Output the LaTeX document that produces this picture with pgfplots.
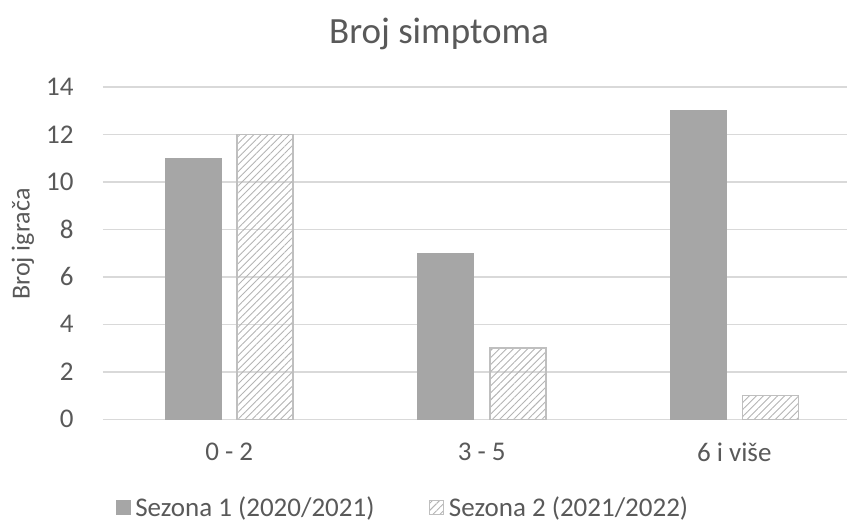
\documentclass[border=0pt]{standalone}
\usepackage{pgfplots}
\pgfplotsset{compat=1.18}
\usepackage{fontspec}
\setmainfont{Carlito}
\usetikzlibrary{patterns.meta}
\definecolor{txt}{HTML}{595959}
\definecolor{gridc}{HTML}{D9D9D9}
\definecolor{sone}{HTML}{A6A6A6}
\definecolor{stwob}{HTML}{BFBFBF}
\definecolor{hatch}{HTML}{B4B4B4}
\begin{document}
\begin{tikzpicture}[x=1pt,y=1pt]
\path[use as bounding box] (-103,-110.7) rectangle (744,419.3);
\begin{axis}[
  at={(0,0)}, anchor=south west,
  scale only axis, width=757.5pt, height=332.5pt,
  xmin=-0.5, xmax=2.5, ymin=0, ymax=14,
  ytick={0,2,...,14}, xtick={0,1,2},
  xticklabels={0 - 2, 3 - 5, 6 i više},
  ybar, bar width=56pt,
  axis line style={draw=none},
  major tick length=0pt,
  ymajorgrids, grid style={gridc, line width=1.5pt},
  /pgf/number format/assume math mode=true,
  tick label style={font=\fontsize{27}{32}\selectfont, text=txt},
  yticklabel style={anchor=east, xshift=-26pt},
  xticklabel style={anchor=center, yshift=-33pt},
  ylabel={Broj igrača},
  ylabel style={at={(axis description cs:-0.1056,0.527)}, anchor=center, rotate=0, font=\fontsize{26}{30}\selectfont, text=txt},
  title={Broj simptoma},
  title style={at={(axis description cs:0.4436,1.1408)}, anchor=center, font=\fontsize{37}{42}\selectfont, text=txt},
  legend columns=2,
  legend style={at={(axis description cs:0.396,-0.2638)}, anchor=center, draw=none, fill=none,
    font=\fontsize{27}{32}\selectfont, text=txt,
    /tikz/every even column/.append style={column sep=53pt},
    inner sep=0pt},
  legend image code/.code={\draw[#1, line width=1pt] (0pt,-7pt) rectangle (14pt,7pt); \node[inner sep=0pt, minimum size=0pt, draw=none, fill=none] at (17pt,0pt) {};},
]
\addplot+[bar shift=-36pt, fill=sone, draw=sone, line width=1pt] coordinates {(0,11) (1,7) (2,13)};
\addplot+[bar shift=36pt, draw=stwob, line width=1.5pt,
  pattern={Lines[angle=45,distance=5pt,line width=0.9pt]}, pattern color=hatch] coordinates {(0,12) (1,3) (2,1)};
\legend{Sezona 1 (2020/2021), Sezona 2 (2021/2022)}
\end{axis}
\end{tikzpicture}
\end{document}
